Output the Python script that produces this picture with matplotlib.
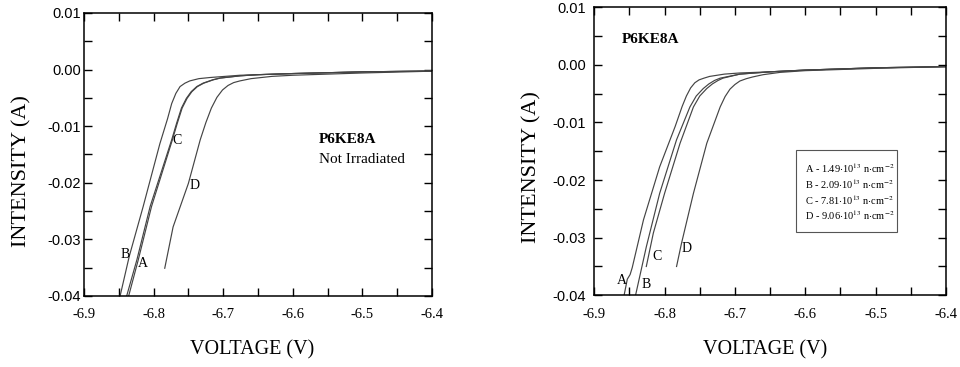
import matplotlib
matplotlib.use("Agg")
import matplotlib.pyplot as plt
from matplotlib.ticker import MultipleLocator

plt.rcParams['font.family'] = ['Liberation Serif', 'DejaVu Serif']
plt.rcParams['mathtext.fontset'] = 'stix'

# x axis / y axis ticks
xticks = [-6.9, -6.8, -6.7, -6.6, -6.5, -6.4]
xtick_labels = ['-6.9', '-6.8', '-6.7', '-6.6', '-6.5', '-6.4']
yticks = [0.01, 0.00, -0.01, -0.02, -0.03, -0.04]
ytick_labels = ['0.01', '0.00', '-0.01', '-0.02', '-0.03', '-0.04']

# ---- left panel: not irradiated
L_A_v = [-6.841, -6.824, -6.805, -6.774, -6.767, -6.760, -6.753, -6.746, -6.738, -6.729, -6.715, -6.705, -6.676, -6.65, -6.6, -6.5, -6.4]
L_A_i = [-0.0410, -0.0336, -0.0242, -0.0124, -0.0095, -0.0068, -0.0051, -0.0039, -0.0030, -0.0024, -0.0018, -0.0015, -0.0011, -0.0009, -0.0007, -0.0004, -0.00025]
L_B_v = [-6.850, -6.835, -6.815, -6.791, -6.780, -6.774, -6.768, -6.762, -6.755, -6.748, -6.735, -6.719, -6.676, -6.65, -6.6, -6.5, -6.4]
L_B_i = [-0.0410, -0.0330, -0.0242, -0.0131, -0.0087, -0.0060, -0.0042, -0.0030, -0.0024, -0.0020, -0.0016, -0.0014, -0.0010, -0.0009, -0.0007, -0.0004, -0.00025]
L_C_v = [-6.838, -6.822, -6.803, -6.773, -6.766, -6.759, -6.752, -6.745, -6.737, -6.728, -6.714, -6.704, -6.675, -6.65, -6.6, -6.5, -6.4]
L_C_i = [-0.0410, -0.0336, -0.0242, -0.0124, -0.0095, -0.0068, -0.0051, -0.0039, -0.0030, -0.0024, -0.0018, -0.0015, -0.0011, -0.0009, -0.0007, -0.0004, -0.00025]
L_D_v = [-6.784, -6.772, -6.750, -6.733, -6.725, -6.717, -6.709, -6.701, -6.693, -6.685, -6.676, -6.66, -6.63, -6.6, -6.5, -6.4]
L_D_i = [-0.0351, -0.0278, -0.0201, -0.0124, -0.0094, -0.0068, -0.0049, -0.0036, -0.0028, -0.0023, -0.0020, -0.0016, -0.0012, -0.0010, -0.0006, -0.00028]

# ---- right panel: irradiated
R_A_v = [-6.860, -6.853, -6.849, -6.846, -6.830, -6.807, -6.785, -6.775, -6.769, -6.763, -6.757, -6.751, -6.744, -6.736, -6.715, -6.693, -6.65, -6.6, -6.5, -6.4]
R_A_i = [-0.0415, -0.0372, -0.0364, -0.0352, -0.0269, -0.0177, -0.0107, -0.0072, -0.0054, -0.0040, -0.0031, -0.0026, -0.0023, -0.0020, -0.0016, -0.0014, -0.0012, -0.0009, -0.0005, -0.0003]
R_B_v = [-6.844, -6.826, -6.807, -6.783, -6.764, -6.755, -6.745, -6.737, -6.729, -6.721, -6.693, -6.65, -6.6, -6.5, -6.4]
R_B_i = [-0.0415, -0.0316, -0.0223, -0.0130, -0.0073, -0.0054, -0.0041, -0.0033, -0.0027, -0.0023, -0.0016, -0.0012, -0.0009, -0.0005, -0.0003]
R_C_v = [-6.826, -6.816, -6.800, -6.778, -6.759, -6.750, -6.740, -6.732, -6.724, -6.717, -6.693, -6.65, -6.6, -6.5, -6.4]
R_C_i = [-0.0350, -0.0292, -0.0223, -0.0136, -0.0073, -0.0054, -0.0041, -0.0033, -0.0027, -0.0023, -0.0016, -0.0012, -0.0009, -0.0005, -0.0003]
R_D_v = [-6.783, -6.776, -6.759, -6.740, -6.721, -6.714, -6.707, -6.700, -6.693, -6.684, -6.675, -6.660, -6.636, -6.6, -6.5, -6.4]
R_D_i = [-0.0350, -0.0310, -0.0223, -0.0136, -0.0073, -0.0055, -0.0042, -0.0034, -0.0028, -0.0024, -0.0021, -0.0017, -0.0013, -0.0010, -0.0006, -0.0003]

legend_lines = [r'A - 1.49$\cdot$10$^{13}$ n$\cdot$cm$^{-2}$',
                r'B - 2.09$\cdot$10$^{13}$ n$\cdot$cm$^{-2}$',
                r'C - 7.81$\cdot$10$^{13}$ n$\cdot$cm$^{-2}$',
                r'D - 9.06$\cdot$10$^{13}$ n$\cdot$cm$^{-2}$']

fig = plt.figure(figsize=(9.6, 3.67), dpi=100)
ax1 = fig.add_axes([0.0875, 0.1935, 0.3625, 0.7711])
ax2 = fig.add_axes([0.619, 0.1954, 0.3664, 0.7847])

lc = '#444444'


def style(ax, ypad):
    ax.set_xlim(-6.9, -6.4)
    ax.set_ylim(-0.04, 0.01)
    ax.set_xticks(xticks)
    ax.set_xticklabels(xtick_labels, fontsize=10.5)
    ax.set_yticks(yticks)
    ax.set_yticklabels(ytick_labels, fontsize=10.5, family='Liberation Sans')
    ax.xaxis.set_minor_locator(MultipleLocator(0.05))
    ax.yaxis.set_minor_locator(MultipleLocator(0.005))
    ax.tick_params(which='both', direction='in', top=True, right=True,
                   length=5.5, width=1)
    ax.tick_params(axis='x', pad=9)
    ax.tick_params(axis='y', pad=ypad)
    for s in ax.spines.values():
        s.set_linewidth(1.1)
    ax.set_xlabel('VOLTAGE (V)', fontsize=14.5)
    ax.set_ylabel('INTENSITY (A)', fontsize=16)


style(ax1, 2)
style(ax2, 6)

# left panel
for v, i in [(L_A_v, L_A_i), (L_B_v, L_B_i), (L_C_v, L_C_i), (L_D_v, L_D_i)]:
    ax1.plot(v, i, color=lc, lw=0.85)
ax1.text(-6.841, -0.0326, 'B', fontsize=10, ha='center', va='center')
ax1.text(-6.815, -0.0342, 'A', fontsize=10, ha='center', va='center')
ax1.text(-6.767, -0.0126, 'C', fontsize=10, ha='center', va='center')
ax1.text(-6.741, -0.0204, 'D', fontsize=10, ha='center', va='center')
ax1.text(-6.563, -0.0124, 'P6KE8A', fontsize=11, fontweight='bold', va='center')
ax1.text(-6.563, -0.0159, 'Not Irradiated', fontsize=11, va='center')

# right panel
for v, i in [(R_A_v, R_A_i), (R_B_v, R_B_i), (R_C_v, R_C_i), (R_D_v, R_D_i)]:
    ax2.plot(v, i, color=lc, lw=0.85)
ax2.text(-6.861, -0.0375, 'A', fontsize=10, ha='center', va='center')
ax2.text(-6.826, -0.0382, 'B', fontsize=10, ha='center', va='center')
ax2.text(-6.811, -0.0332, 'C', fontsize=10, ha='center', va='center')
ax2.text(-6.769, -0.0318, 'D', fontsize=10, ha='center', va='center')
ax2.text(-6.861, 0.0044, 'P6KE8A', fontsize=11, fontweight='bold', va='center')

box = plt.Rectangle((-6.613, -0.0290), 0.144, 0.0142, fill=False,
                    edgecolor='#555555', lw=0.8)
ax2.add_patch(box)
for k, s in enumerate(legend_lines):
    ax2.text(-6.600, -0.0180 - k * 0.00272, s, fontsize=7.5, va='center')

ax1.xaxis.set_label_coords(0.483, -0.155)
ax2.xaxis.set_label_coords(0.485, -0.155)
ax1.yaxis.set_label_coords(-0.152, 0.44)
ax2.yaxis.set_label_coords(-0.149, 0.444)

fig.savefig('out.png', dpi=100)
